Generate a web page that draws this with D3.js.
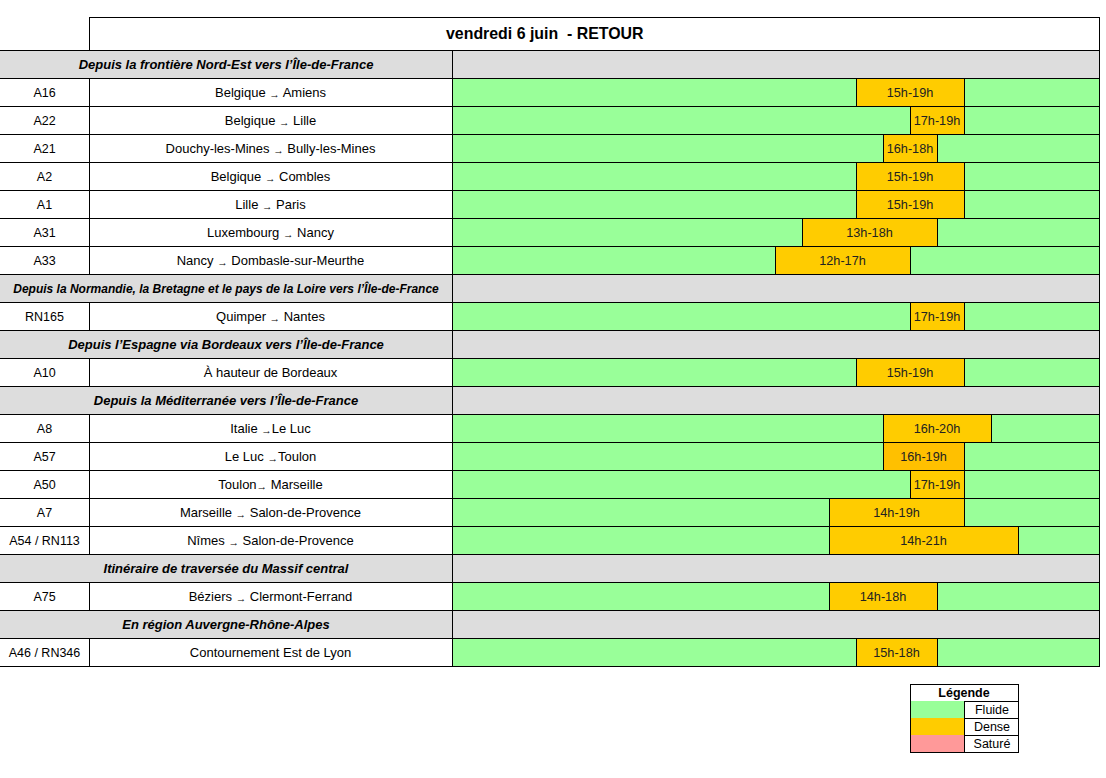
<!DOCTYPE html>
<html>
<head>
<meta charset="utf-8">
<script src="https://cdn.jsdelivr.net/npm/d3@7"></script>
<style>
html,body{margin:0;padding:0;background:#fff;}
svg{display:block;font-family:"Liberation Sans",Arial,sans-serif;}
text{white-space:pre;}
</style>
</head>
<body>
<svg id="chart" width="1106" height="778"></svg>
<script>
// ---------- DATA ----------
const chartTitle = "vendredi 6 juin  - RETOUR";
const sectionTitles = [
  "Depuis la frontière Nord-Est vers l’Île-de-France",
  "Depuis la Normandie, la Bretagne et le pays de la Loire vers l’Île-de-France",
  "Depuis l’Espagne via Bordeaux vers l’Île-de-France",
  "Depuis la Méditerranée vers l’Île-de-France",
  "Itinéraire de traversée du Massif central",
  "En région Auvergne-Rhône-Alpes"
];
const rowSection = [0,0,0,0,0,0,0,1,2,3,3,3,3,3,4,5];
const roadCodes = ["A16","A22","A21","A2","A1","A31","A33","RN165","A10","A8","A57","A50","A7","A54 / RN113","A75","A46 / RN346"];
const routeFrom = ["Belgique ","Belgique ","Douchy-les-Mines ","Belgique ","Lille ","Luxembourg ","Nancy ","Quimper ","","Italie ","Le Luc ","Toulon","Marseille ","Nîmes ","Béziers ",""];
const routeTo = [" Amiens"," Lille"," Bully-les-Mines"," Combles"," Paris"," Nancy"," Dombasle-sur-Meurthe"," Nantes","À hauteur de Bordeaux","Le Luc","Toulon"," Marseille"," Salon-de-Provence"," Salon-de-Provence"," Clermont-Ferrand","Contournement Est de Lyon"];
const hasArrow = [1,1,1,1,1,1,1,1,0,1,1,1,1,1,1,0];
const denseStart = [15,17,16,15,15,13,12,17,15,16,16,17,14,14,14,15];
const denseEnd   = [19,19,18,19,19,18,17,19,19,20,19,19,19,21,18,18];
const hourDomain = [0,24];
const legendLabels = ["Fluide","Dense","Saturé"];
const legendTitle = "Légende";

// ---------- STYLE ----------
const C = {green:"#99ff99", orange:"#ffcc00", orangeDark:"#ffc000", red:"#ff9999", gray:"#dddddd", line:"#000"};
const darkRows = [10];
const xCode0 = 0, xCode1 = 89, xRoute1 = 452, xEnd = 1100;
const titleTop = 17, tableTop = 50, rowH = 28;

const svg = d3.select("#chart");
const x = d3.scaleLinear().domain(hourDomain).range([xRoute1, xEnd]);

// Build layout rows (section headers + data rows)
const layout = [];
let prevSec = -1;
roadCodes.forEach((c,i)=>{
  if(rowSection[i]!==prevSec){ layout.push({type:"sec", sec:rowSection[i]}); prevSec=rowSection[i]; }
  layout.push({type:"row", i});
});
const y = d3.scaleBand().domain(d3.range(layout.length)).range([tableTop, tableTop + rowH*layout.length]).padding(0);

// Title box
svg.append("rect").attr("x",xCode1+0.5).attr("y",titleTop+0.5).attr("width",xEnd-xCode1-1).attr("height",tableTop-titleTop)
  .attr("fill","#fff").attr("stroke",C.line);
svg.append("text").attr("x",446).attr("y",titleTop+22).attr("font-size",15.9).attr("font-weight","bold").text(chartTitle);

const g = svg.append("g");
layout.forEach((r,k)=>{
  const y0 = y(k), h = y.bandwidth();
  if(r.type==="sec"){
    g.append("rect").attr("x",0).attr("y",y0).attr("width",xEnd).attr("height",h).attr("fill",C.gray);
    g.append("text").attr("x",(xCode0+xRoute1)/2).attr("y",y0+h/2+4.5).attr("text-anchor","middle")
      .attr("font-weight","bold").attr("font-style","italic").attr("font-size", r.sec===1?12:13)
      .text(sectionTitles[r.sec]);
    g.append("line").attr("x1",xRoute1+0.5).attr("x2",xRoute1+0.5).attr("y1",y0).attr("y2",y0+h).attr("stroke",C.line);
  } else {
    const i = r.i;
    g.append("rect").attr("x",x(hourDomain[0])).attr("y",y0).attr("width",x(hourDomain[1])-x(hourDomain[0])).attr("height",h).attr("fill",C.green);
    const bx0 = x(denseStart[i]) - 1, bx1 = x(denseEnd[i]) - 1;
    g.append("rect").attr("x",bx0).attr("y",y0).attr("width",bx1-bx0).attr("height",h)
      .attr("fill", darkRows.includes(i)?C.orangeDark:C.orange);
    [bx0,bx1].forEach(v=>g.append("line").attr("x1",v+0.5).attr("x2",v+0.5).attr("y1",y0).attr("y2",y0+h).attr("stroke",C.line));
    g.append("text").attr("x",(bx0+bx1)/2).attr("y",y0+h/2+4.5).attr("text-anchor","middle").attr("font-size",12.7).attr("fill","#222")
      .text(denseStart[i]+"h-"+denseEnd[i]+"h");
    g.append("text").attr("x",(xCode0+xCode1)/2).attr("y",y0+h/2+4.5).attr("text-anchor","middle").attr("font-size",12.5).text(roadCodes[i]);
    const t = g.append("text").attr("x",(xCode1+xRoute1)/2).attr("y",y0+h/2+4.5).attr("text-anchor","middle").attr("font-size",13);
    t.append("tspan").text(routeFrom[i]);
    if(hasArrow[i]) t.append("tspan").attr("font-size",10.5).attr("dy",1.5).text("→");
    t.append("tspan").attr("dy",hasArrow[i]?-1.5:0).text(routeTo[i]);
    [xCode1, xRoute1].forEach(v=>g.append("line").attr("x1",v+0.5).attr("x2",v+0.5).attr("y1",y0).attr("y2",y0+h).attr("stroke",C.line));
  }
  g.append("line").attr("x1",0).attr("x2",xEnd).attr("y1",y0+0.5).attr("y2",y0+0.5).attr("stroke",C.line);
});
const yBottom = tableTop + rowH*layout.length;
g.append("line").attr("x1",0).attr("x2",xEnd).attr("y1",yBottom+0.5).attr("y2",yBottom+0.5).attr("stroke",C.line);
g.append("line").attr("x1",xEnd-0.5).attr("x2",xEnd-0.5).attr("y1",titleTop).attr("y2",yBottom+1).attr("stroke",C.line);

// Legend
const lx0 = 910, lx1 = 964, lx2 = 1018, ly0 = 684, lh = 17;
const lg = svg.append("g");
const legColors = [C.green, C.orange, C.red];
lg.append("rect").attr("x",lx0+0.5).attr("y",ly0+0.5).attr("width",lx2-lx0).attr("height",lh).attr("fill","#fff").attr("stroke",C.line);
lg.append("text").attr("x",(lx0+lx2)/2).attr("y",ly0+13).attr("text-anchor","middle").attr("font-weight","bold").attr("font-size",12.5).text(legendTitle);
legendLabels.forEach((l,j)=>{
  const yy = ly0 + lh*(j+1);
  lg.append("rect").attr("x",lx0+0.5).attr("y",yy).attr("width",lx1-lx0).attr("height",lh).attr("fill",legColors[j]);
  lg.append("text").attr("x",(lx1+lx2)/2+1).attr("y",yy+13).attr("text-anchor","middle").attr("font-size",12.5).text(l);
  lg.append("line").attr("x1",lx0).attr("x2",lx2+1).attr("y1",yy+lh+0.5).attr("y2",yy+lh+0.5).attr("stroke",C.line);
});
lg.append("line").attr("x1",lx0+0.5).attr("x2",lx0+0.5).attr("y1",ly0).attr("y2",ly0+lh*4+1).attr("stroke",C.line);
lg.append("line").attr("x1",lx1+0.5).attr("x2",lx1+0.5).attr("y1",ly0+lh).attr("y2",ly0+lh*4+1).attr("stroke",C.line);
lg.append("line").attr("x1",lx2+0.5).attr("x2",lx2+0.5).attr("y1",ly0).attr("y2",ly0+lh*4+1).attr("stroke",C.line);
</script>
</body>
</html>
